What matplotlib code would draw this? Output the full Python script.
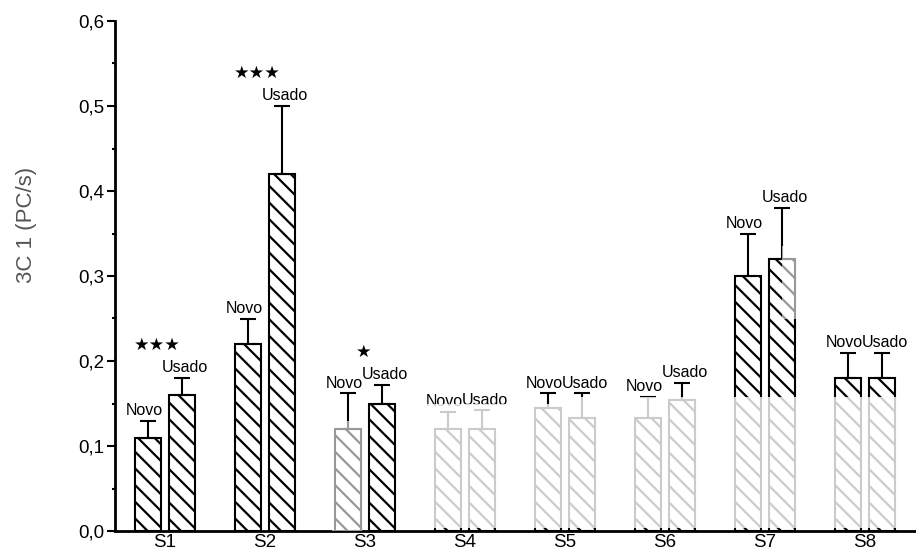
import matplotlib
matplotlib.use("Agg")
import matplotlib.pyplot as plt
from matplotlib.patches import Rectangle
from matplotlib.ticker import MultipleLocator, FuncFormatter
import numpy as np

# Data
samples = ["S1", "S2", "S3", "S4", "S5", "S6", "S7", "S8"]
novo_mean = [0.11, 0.22, 0.12, 0.12, 0.145, 0.133, 0.30, 0.18]
novo_upper = [0.13, 0.25, 0.162, 0.14, 0.162, 0.158, 0.35, 0.21]
usado_mean = [0.16, 0.42, 0.15, 0.12, 0.133, 0.154, 0.32, 0.18]
usado_upper = [0.18, 0.50, 0.172, 0.142, 0.162, 0.174, 0.38, 0.21]
significance = ["***", "***", "*", "", "", "", "", ""]
series_labels = ["Novo", "Usado"]
y_label = "3C 1 (PC/s)"

plt.rcParams["font.family"] = ["Liberation Sans", "DejaVu Sans"]
plt.rcParams["hatch.linewidth"] = 1.6
plt.rcParams["hatch.color"] = "black"

fig = plt.figure(figsize=(9.16, 5.55), dpi=100)
ax = fig.add_axes([115 / 916, 24 / 555, 801 / 916, 510 / 555])

x = np.arange(1, len(samples) + 1)
offset = 0.17
width = 0.26

novo_err = np.array(novo_upper) - np.array(novo_mean)
usado_err = np.array(usado_upper) - np.array(usado_mean)

err_kw = dict(elinewidth=1.5, capthick=1.5, ecolor="black")
for xs, means, err in ((x - offset, novo_mean, novo_err),
                       (x + offset, usado_mean, usado_err)):
    ax.bar(xs, means, width=width, facecolor="white", edgecolor="black",
           linewidth=1.5, hatch="\\\\", zorder=2)
    ax.errorbar(xs, means, yerr=[np.zeros_like(err), err], fmt="none",
                capsize=6, zorder=3, **err_kw)

# Series labels above each error bar, significance stars above the pair
for i in range(len(samples)):
    ax.annotate(series_labels[0], (x[i] - offset, novo_upper[i]),
                xytext=(-3, 2), textcoords="offset points",
                ha="center", va="bottom", fontsize=11.5, zorder=4)
    ax.annotate(series_labels[1], (x[i] + offset, usado_upper[i]),
                xytext=(2, 2), textcoords="offset points",
                ha="center", va="bottom", fontsize=11.5, zorder=4)
    if significance[i]:
        n = len(significance[i])
        dx = -0.25 if n > 1 else -0.18
        ax.annotate("\u2605" * n, (x[i] + offset + dx, usado_upper[i]),
                    xytext=(0, 17), textcoords="offset points",
                    ha="center", va="bottom", fontsize=12.5,
                    family="DejaVu Sans", zorder=4)

# Faded patches of the printed page
haze = [
    ((2.67, 0.0), 0.30, 0.13, 0.6),
    ((3.55, 0.003), 1.60, 0.146, 0.8),
    ((5.15, 0.003), 3.36, 0.155, 0.8),
    ((7.17, 0.25), 0.70, 0.085, 0.6),
]
for (x0, y0), w, h, a in haze:
    ax.add_patch(Rectangle((x0, y0), w, h, facecolor="white", edgecolor="none",
                           alpha=a, zorder=5))

ax.set_xlim(0.5, 8.51)
ax.set_ylim(0, 0.6)
ax.set_xticks(x)
ax.set_xticklabels(samples, fontsize=13.5)
ax.tick_params(axis="x", length=0, pad=2)

ax.yaxis.set_major_locator(MultipleLocator(0.1))
ax.yaxis.set_minor_locator(MultipleLocator(0.05))
ax.yaxis.set_major_formatter(FuncFormatter(lambda v, p: f"{v:.1f}".replace(".", ",")))
ax.tick_params(axis="y", which="major", length=6, width=1.5, labelsize=13.5, pad=2)
ax.tick_params(axis="y", which="minor", length=2.5, width=1.5)

ax.set_ylabel(y_label, fontsize=16, color="#555555")
ax.yaxis.set_label_coords(-0.097, 0.6)

for side in ("top", "right"):
    ax.spines[side].set_visible(False)
ax.spines["left"].set_linewidth(2)
ax.spines["bottom"].set_linewidth(2)

fig.savefig("out.png", dpi=100)
